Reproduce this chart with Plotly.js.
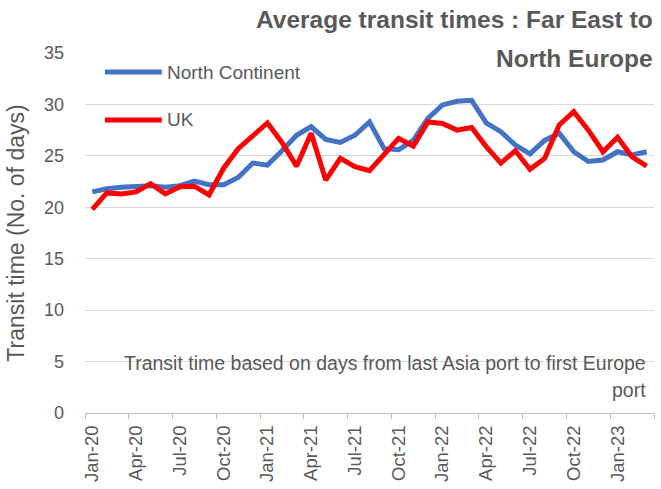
<!DOCTYPE html>
<html>
<head>
<meta charset="utf-8">
<script src="https://cdn.plot.ly/plotly-3.0.1.min.js"></script>
<style>html,body{margin:0;padding:0;background:#fff;}#chart{width:661px;height:489px;}</style>
</head>
<body>
<div id="chart"></div>
<script>
var months = ["Jan-20","Feb-20","Mar-20","Apr-20","May-20","Jun-20","Jul-20","Aug-20","Sep-20","Oct-20","Nov-20","Dec-20",
  "Jan-21","Feb-21","Mar-21","Apr-21","May-21","Jun-21","Jul-21","Aug-21","Sep-21","Oct-21","Nov-21","Dec-21",
  "Jan-22","Feb-22","Mar-22","Apr-22","May-22","Jun-22","Jul-22","Aug-22","Sep-22","Oct-22","Nov-22","Dec-22",
  "Jan-23","Feb-23","Mar-23"];
var northContinent = [21.5,21.8,21.95,22.0,22.1,21.95,22.1,22.55,22.2,22.2,22.9,24.3,
  24.1,25.5,27.0,27.85,26.6,26.3,27.0,28.3,25.7,25.6,26.5,28.65,
  29.95,30.3,30.4,28.2,27.35,26.05,25.2,26.5,27.2,25.4,24.45,24.6,
  25.4,25.1,25.4];
var uk = [19.8,21.4,21.3,21.5,22.3,21.3,22.0,22.05,21.2,23.8,25.7,27.0,
  28.2,26.3,24.0,27.2,22.65,24.75,23.95,23.55,25.1,26.7,25.95,28.3,
  28.15,27.5,27.75,25.9,24.3,25.5,23.7,24.75,28.0,29.3,27.5,25.4,
  26.8,24.9,24.0];
var seriesNames = ["North Continent", "UK"];
var seriesColors = ["#4472C4", "#FF0000"];
var yTicks = [0,5,10,15,20,25,30,35];
var titleLines = ["Average transit times : Far East to", "North Europe"];
var noteLines = ["Transit time based on days from last Asia port to first Europe", "port"];

var FONT = "'Liberation Sans', Arial, sans-serif";
var GREY = "#595959";

var idx = months.map(function(_, i){ return i; });
var labelIdx = idx.filter(function(i){ return i % 3 === 0; });
var boundaryIdx = [];
for (var b = -0.5; b <= months.length - 0.5 + 1e-9; b += 3) boundaryIdx.push(b);

var traces = [northContinent, uk].map(function(vals, k){
  return {
    x: idx, y: vals, type: 'scatter', mode: 'lines', name: seriesNames[k],
    line: {color: seriesColors[k], width: 5}, hoverinfo: 'x+y'
  };
});

var legendY = [0.947, 0.814];
var shapes = [], annotations = [];
seriesNames.forEach(function(n, k){
  shapes.push({type:'line', xref:'paper', yref:'paper', x0:0.035, x1:0.135, y0:legendY[k], y1:legendY[k],
    line:{color:seriesColors[k], width:5}});
  annotations.push({xref:'paper', yref:'paper', x:0.141, y:legendY[k], xanchor:'left', yanchor:'middle',
    text:n, showarrow:false, font:{family:FONT, size:19, color:GREY}});
});
annotations.push({xref:'paper', yref:'paper', x:1.002, y:1.094, xanchor:'right', yanchor:'middle',
  text:'<b>'+titleLines[0]+'</b>', showarrow:false, font:{family:FONT, size:24.5, color:GREY}});
annotations.push({xref:'paper', yref:'paper', x:1.002, y:0.985, xanchor:'right', yanchor:'middle',
  text:'<b>'+titleLines[1]+'</b>', showarrow:false, font:{family:FONT, size:24.5, color:GREY}});
annotations.push({xref:'paper', yref:'paper', x:0.99, y:0.139, xanchor:'right', yanchor:'middle',
  text:noteLines[0], showarrow:false, font:{family:FONT, size:19.5, color:GREY}});
annotations.push({xref:'paper', yref:'paper', x:0.99, y:0.064, xanchor:'right', yanchor:'middle',
  text:noteLines[1], showarrow:false, font:{family:FONT, size:19.5, color:GREY}});

var layout = {
  width: 661, height: 489,
  margin: {l: 85, r: 7, t: 53, b: 76},
  paper_bgcolor: '#fff', plot_bgcolor: '#fff',
  showlegend: false,
  font: {family: FONT, color: GREY},
  xaxis: {
    type: 'linear', range: [-0.5, months.length - 0.5], fixedrange: true,
    tickmode: 'array', tickvals: labelIdx, ticktext: labelIdx.map(function(i){ return months[i]; }),
    tickangle: -90, ticks: '', showgrid: false, zeroline: false,
    showline: true, linecolor: '#bfbfbf', linewidth: 1,
    tickfont: {family: FONT, size: 18.5, color: GREY},
    ticklabelstandoff: 4,
    minor: {tickmode: 'array', tickvals: boundaryIdx, ticks: 'outside', ticklen: 5, tickcolor: '#bfbfbf', tickwidth: 1, showgrid: false}
  },
  yaxis: {
    range: [0, 35], fixedrange: true, tickmode: 'array', tickvals: yTicks,
    ticks: '', showgrid: true, gridcolor: '#d9d9d9', gridwidth: 1, zeroline: false, showline: false,
    tickfont: {family: FONT, size: 18, color: GREY},
    ticklabelstandoff: 20,
    title: {text: 'Transit time (No. of days)', font: {family: FONT, size: 23, color: GREY}, standoff: 12}
  },
  shapes: shapes,
  annotations: annotations
};

Plotly.newPlot('chart', traces, layout, {displayModeBar: false, staticPlot: true});
</script>
</body>
</html>
